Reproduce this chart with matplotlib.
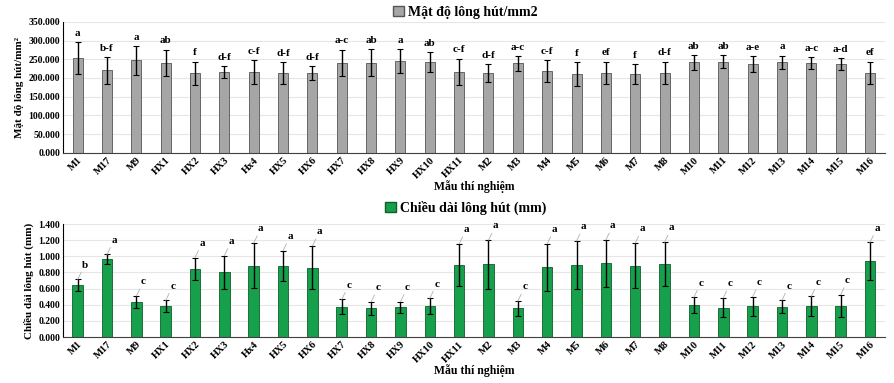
import matplotlib.pyplot as plt
import numpy as np
from matplotlib.patches import Patch
from matplotlib.ticker import FuncFormatter

# sample names (x axis, both panels)
samples = ["M1", "M17", "M9", "HX1", "HX2", "HX3", "Hx4", "HX5", "HX6", "HX7",
           "HX8", "HX9", "HX10", "HX11", "M2", "M3", "M4", "M5", "M6", "M7",
           "M8", "M10", "M11", "M12", "M13", "M14", "M15", "M16"]

# root hair density (hairs/mm2)
density = [253, 220, 247, 240, 212, 215, 216, 213, 213, 240,
           241, 245, 243, 216, 214, 239, 218, 210, 214, 210,
           214, 242, 244, 237, 242, 239, 237, 214]
density_err = [42, 35, 38, 36, 32, 16, 32, 30, 18, 36,
               36, 32, 27, 36, 24, 20, 30, 32, 30, 26,
               30, 20, 18, 22, 18, 16, 17, 30]
density_grp = ["a", "b-f", "a", "ab", "f", "d-f", "c-f", "d-f", "d-f", "a-c",
               "ab", "a", "ab", "c-f", "d-f", "a-c", "c-f", "f", "ef", "f",
               "d-f", "ab", "ab", "a-e", "a", "a-c", "a-d", "ef"]

# root hair length (mm)
length = [0.645, 0.963, 0.434, 0.384, 0.845, 0.80, 0.886, 0.88, 0.86, 0.376,
          0.355, 0.368, 0.38, 0.894, 0.90, 0.355, 0.865, 0.89, 0.913, 0.884,
          0.905, 0.393, 0.364, 0.38, 0.376, 0.384, 0.384, 0.942]
length_err = [0.07, 0.06, 0.075, 0.07, 0.14, 0.21, 0.28, 0.19, 0.27, 0.09,
              0.08, 0.07, 0.10, 0.26, 0.30, 0.09, 0.29, 0.30, 0.29, 0.28,
              0.27, 0.10, 0.12, 0.12, 0.08, 0.12, 0.14, 0.23]
length_grp = ["b", "a", "c", "c", "a", "a", "a", "a", "a", "c",
              "c", "c", "c", "a", "a", "c", "a", "a", "a", "a",
              "a", "c", "c", "c", "c", "c", "c", "a"]

plt.rcParams['font.family'] = ['Liberation Serif', 'DejaVu Serif']
plt.rcParams['font.weight'] = 'bold'

fig = plt.figure(figsize=(8.95, 3.83), dpi=100)
ax1 = fig.add_axes([0.0704, 0.601, 0.918, 0.342])
ax2 = fig.add_axes([0.0704, 0.120, 0.918, 0.295])

x = np.arange(len(samples))
fmt3 = FuncFormatter(lambda v, p: f"{v:.3f}")


def style_axis(ax, ylim, step, ylabel):
    ax.set_xlim(-0.5, len(samples) - 0.5)
    ax.set_ylim(0, ylim)
    ax.set_yticks(np.arange(0, ylim + step / 2, step))
    ax.yaxis.set_major_formatter(fmt3)
    ax.grid(axis='y', color='#e6e6e6', lw=0.8)
    ax.set_axisbelow(True)
    for s in ['top', 'right']:
        ax.spines[s].set_visible(False)
    ax.spines['left'].set_color('black')
    ax.spines['bottom'].set_color('#404040')
    ax.tick_params(axis='both', length=0, labelsize=7, pad=2)
    ax.set_xticks(x)
    ax.set_xticklabels(samples, rotation=45, ha='right', rotation_mode='anchor',
                       fontsize=7.5, fontweight='bold')
    for t in ax.get_yticklabels():
        t.set_fontweight('bold')
    ax.set_ylabel(ylabel, fontsize=8, fontweight='bold', labelpad=3)
    ax.set_xlabel("Mẫu thí nghiệm", fontsize=8.5, fontweight='bold', labelpad=0)


# top panel: density
ax1.bar(x, density, width=0.34, color='#a6a6a6', edgecolor='#555555', lw=0.6,
        yerr=density_err, error_kw=dict(ecolor='black', elinewidth=1.0, capsize=2, capthick=0.8))
for xi, v, e, g in zip(x, density, density_err, density_grp):
    ax1.annotate(g, (xi, v + e), xytext=(0, 3), textcoords='offset points',
                 ha='center', va='bottom', fontsize=8, fontweight='bold')
style_axis(ax1, 350, 50, "Mật độ lông hút/mm²")
ax1.legend(handles=[Patch(facecolor='#a6a6a6', edgecolor='#555555', label="Mật độ lông hút/mm2")],
           loc='lower center', bbox_to_anchor=(0.49, 0.97), frameon=False,
           prop=dict(weight='bold', size=10), handlelength=0.8, handleheight=0.8,
           handletextpad=0.3, borderpad=0)

# bottom panel: length
ax2.bar(x, length, width=0.36, color='#17a04b', edgecolor='#0d5e2a', lw=0.6,
        yerr=length_err, error_kw=dict(ecolor='black', elinewidth=1.0, capsize=2, capthick=0.8))
for xi, v, e, g in zip(x, length, length_err, length_grp):
    ax2.annotate(g, (xi, v + e), xytext=(5, 7), textcoords='offset points',
                 ha='center', va='bottom', fontsize=8, fontweight='bold',
                 arrowprops=dict(arrowstyle='-', color='#b0b0b0', lw=0.6,
                                 shrinkA=0, shrinkB=0))
style_axis(ax2, 1.4, 0.2, "Chiều dài lông hút (mm)")
ax2.legend(handles=[Patch(facecolor='#17a04b', edgecolor='#0d5e2a', label="Chiều dài lông hút (mm)")],
           loc='lower center', bbox_to_anchor=(0.49, 1.02), frameon=False,
           prop=dict(weight='bold', size=10), handlelength=0.8, handleheight=0.8,
           handletextpad=0.3, borderpad=0)

fig.savefig("out.png", dpi=100)
